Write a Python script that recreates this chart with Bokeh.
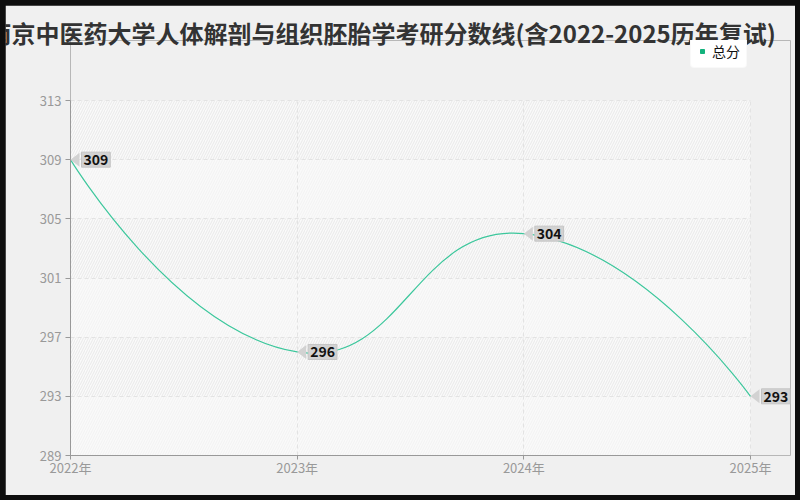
import math
from bokeh.plotting import figure
from bokeh.models import (Label, Legend, LegendItem, FixedTicker, ColumnDataSource,
                          Range1d, Title, PolyAnnotation, BoxAnnotation, Grid)
from bokeh.embed import file_html
from bokeh.resources import INLINE

# ---------------- data ----------------
years = [2022, 2023, 2024, 2025]
year_labels = ["2022年", "2023年", "2024年", "2025年"]
scores = [309, 296, 304, 293]
y_ticks = [289, 293, 297, 301, 305, 309, 313]
series_name = "总分"
title_text = "南京中医药大学人体解剖与组织胚胎学考研分数线(含2022-2025历年复试)"

# ---------------- layout (canvas pixels) ----------------
W, H = 790, 490
FL, FR, FT, FB = 65, 5, 35, 40          # frame borders (frame extended right/up for callouts)
AREA_W, AREA_H = 680, 355               # visible plot area (2022..2025, 289..313)
frame_w = W - FL - FR
frame_h = H - FT - FB
x_lo, x_hi = years[0], years[-1]
y_lo, y_hi = y_ticks[0], y_ticks[-1]
kx = AREA_W / (x_hi - x_lo)
ky = AREA_H / (y_hi - y_lo)
x_end = x_lo + frame_w / kx
y_end = y_lo + frame_h / ky

FONT = "Noto Sans CJK SC"
LINE = "#3cc79c"
GREEN = "#12b27c"


def smooth_segments(xs, ys, smooth=0.5):
    """Cardinal-style bezier smoothing (ECharts 4 smoothBezier with bbox constraint)."""
    pts = [((x - x_lo) * kx, (y - y_lo) * ky) for x, y in zip(xs, ys)]
    n = len(pts)
    mnx = min(p[0] for p in pts); mxx = max(p[0] for p in pts)
    mny = min(p[1] for p in pts); mxy = max(p[1] for p in pts)
    clamp = lambda c: (min(max(c[0], mnx), mxx), min(max(c[1], mny), mxy))
    cps = []
    for i in range(n):
        if i == 0 or i == n - 1:
            cps.append(pts[i]); continue
        px, py = pts[i]
        (ax, ay), (bx, by) = pts[i - 1], pts[i + 1]
        vx, vy = (bx - ax) * smooth, (by - ay) * smooth
        d0 = math.hypot(px - ax, py - ay)
        d1 = math.hypot(bx - px, by - py)
        s = d0 + d1
        d0, d1 = d0 / s, d1 / s
        cps.append(clamp((px - vx * d0, py - vy * d0)))
        cps.append(clamp((px + vx * d1, py + vy * d1)))
    to_x = lambda v: x_lo + v / kx
    to_y = lambda v: y_lo + v / ky
    data = dict(x0=[], y0=[], cx0=[], cy0=[], cx1=[], cy1=[], x1=[], y1=[])
    for i in range(n - 1):
        c0 = cps[2 * i]
        c1 = cps[2 * i + 1]
        data["x0"].append(to_x(pts[i][0])); data["y0"].append(to_y(pts[i][1]))
        data["cx0"].append(to_x(c0[0])); data["cy0"].append(to_y(c0[1]))
        data["cx1"].append(to_x(c1[0])); data["cy1"].append(to_y(c1[1]))
        data["x1"].append(to_x(pts[i + 1][0])); data["y1"].append(to_y(pts[i + 1][1]))
    return data


p = figure(width=W, height=H, output_backend="svg", toolbar_location=None,
           x_range=Range1d(x_lo, x_end), y_range=Range1d(y_lo, y_end),
           min_border_left=FL, min_border_right=FR, min_border_top=FT, min_border_bottom=FB)
p.border_fill_color = "#f0f0f0"
p.background_fill_color = "#f0f0f0"
p.outline_line_color = None

# plot-area background and alternating hatched bands
p.add_layout(BoxAnnotation(left=x_lo, right=x_hi, bottom=y_lo, top=y_hi,
                           fill_color="#fafafa", fill_alpha=1, line_color=None,
                           hatch_pattern="/", hatch_color="#f2f2f2", hatch_scale=5,
                           hatch_weight=1, level="image"))
for i in range(1, len(y_ticks) - 1, 2):
    p.add_layout(BoxAnnotation(left=x_lo, right=x_hi, bottom=y_ticks[i], top=y_ticks[i + 1],
                               fill_alpha=0, line_color=None,
                               hatch_pattern="/", hatch_color="#ebebeb", hatch_scale=5,
                               hatch_weight=1, level="image"))

# title
t = Title(text=title_text, align="left", offset=-83, standoff=-18,
          text_font=FONT, text_font_size="24px", text_font_style="bold",
          text_color="#333333")
p.add_layout(t, "above")

# axes
p.xaxis.ticker = FixedTicker(ticks=years)
p.xaxis.major_label_overrides = {y: l for y, l in zip(years, year_labels)}
p.xaxis.bounds = (x_lo, x_hi)
p.yaxis.ticker = FixedTicker(ticks=y_ticks)
p.yaxis.bounds = (y_lo, y_hi)
for ax in (p.xaxis[0], p.yaxis[0]):
    ax.axis_line_color = "#999999"
    ax.major_tick_line_color = "#999999"
    ax.major_tick_out = 4
    ax.major_tick_in = 0
    ax.minor_tick_line_color = None
    ax.major_label_text_color = "#999999"
    ax.major_label_text_font = FONT
    ax.major_label_text_font_size = "13px"
p.yaxis.major_tick_out = 5
p.xaxis.major_label_standoff = -2
p.yaxis.major_label_standoff = 4

# grids limited to the plot area
grid_style = dict(grid_line_color="#e3e3e3", grid_line_dash="4 3", grid_line_width=1)
if "cross_bounds" in Grid.properties():
    for g in (p.xgrid, p.ygrid):
        for k, v in grid_style.items():
            setattr(g, k, v)
    p.xgrid.cross_bounds = (y_lo, y_hi)
    p.ygrid.cross_bounds = (x_lo, x_hi)
    p.xgrid.bounds = (x_lo, x_hi)
    p.ygrid.bounds = (y_lo, y_hi)
else:
    p.xgrid.visible = False
    p.ygrid.visible = False
    gx = [x for x in years[1:]]
    p.segment(x0=gx, x1=gx, y0=[y_lo] * len(gx), y1=[y_hi] * len(gx),
              line_color="#e3e3e3", line_dash="4 3", line_width=1, level="underlay")
    gy = [y for y in y_ticks[1:]]
    p.segment(x0=[x_lo] * len(gy), x1=[x_hi] * len(gy), y0=gy, y1=gy,
              line_color="#e3e3e3", line_dash="4 3", line_width=1, level="underlay")

# smoothed line
segs = smooth_segments(years, scores)
p.bezier(x0="x0", y0="y0", x1="x1", y1="y1", cx0="cx0", cy0="cy0", cx1="cx1", cy1="cy1",
         source=ColumnDataSource(segs), line_color=LINE, line_width=1.2)

# value callouts
for yr, sc in zip(years, scores):
    dx, dy = 9 / kx, 7 / ky
    p.add_layout(PolyAnnotation(xs=[yr, yr + dx, yr + dx], ys=[sc, sc + dy, sc - dy],
                                fill_color="#d2d2d2", fill_alpha=1, line_color=None))
    p.add_layout(Label(x=yr, y=sc, text=str(sc), x_offset=11, y_offset=0,
                       text_baseline="middle", text_align="left",
                       text_font=FONT, text_font_size="14px", text_font_style="bold",
                       text_color="#111111", background_fill_color="#d2d2d2",
                       border_line_color="#c4c4c4", padding=2))

# legend (marker renderer with zero size so only the legend swatch shows)
leg_r = p.scatter(x="x", y="y", source=ColumnDataSource(dict(x=[years[0]], y=[scores[0]])),
                  marker="square", size=0, fill_color=GREEN, line_color=GREEN)
legend_kw = dict(items=[LegendItem(label=series_name, renderers=[leg_r])],
                 location=(620, 387), orientation="horizontal",
                 background_fill_color="#ffffff", background_fill_alpha=1,
                 border_line_color="#f4f4f4", label_text_font=FONT,
                 label_text_font_size="14px", label_text_color="#111111",
                 glyph_width=10, glyph_height=12, label_height=12,
                 label_standoff=5, padding=6, margin=0, spacing=0)
if "border_radius" in Legend.properties():
    legend_kw["border_radius"] = 4
legend = Legend(**legend_kw)
p.add_layout(legend, "center")

html = file_html(p, INLINE)
html = html.replace("</head>",
                    "<style>html,body{background:#0e0e0e !important;}"
                    "body{padding:5px !important;}</style></head>", 1)
open("out.html", "w").write(html)
